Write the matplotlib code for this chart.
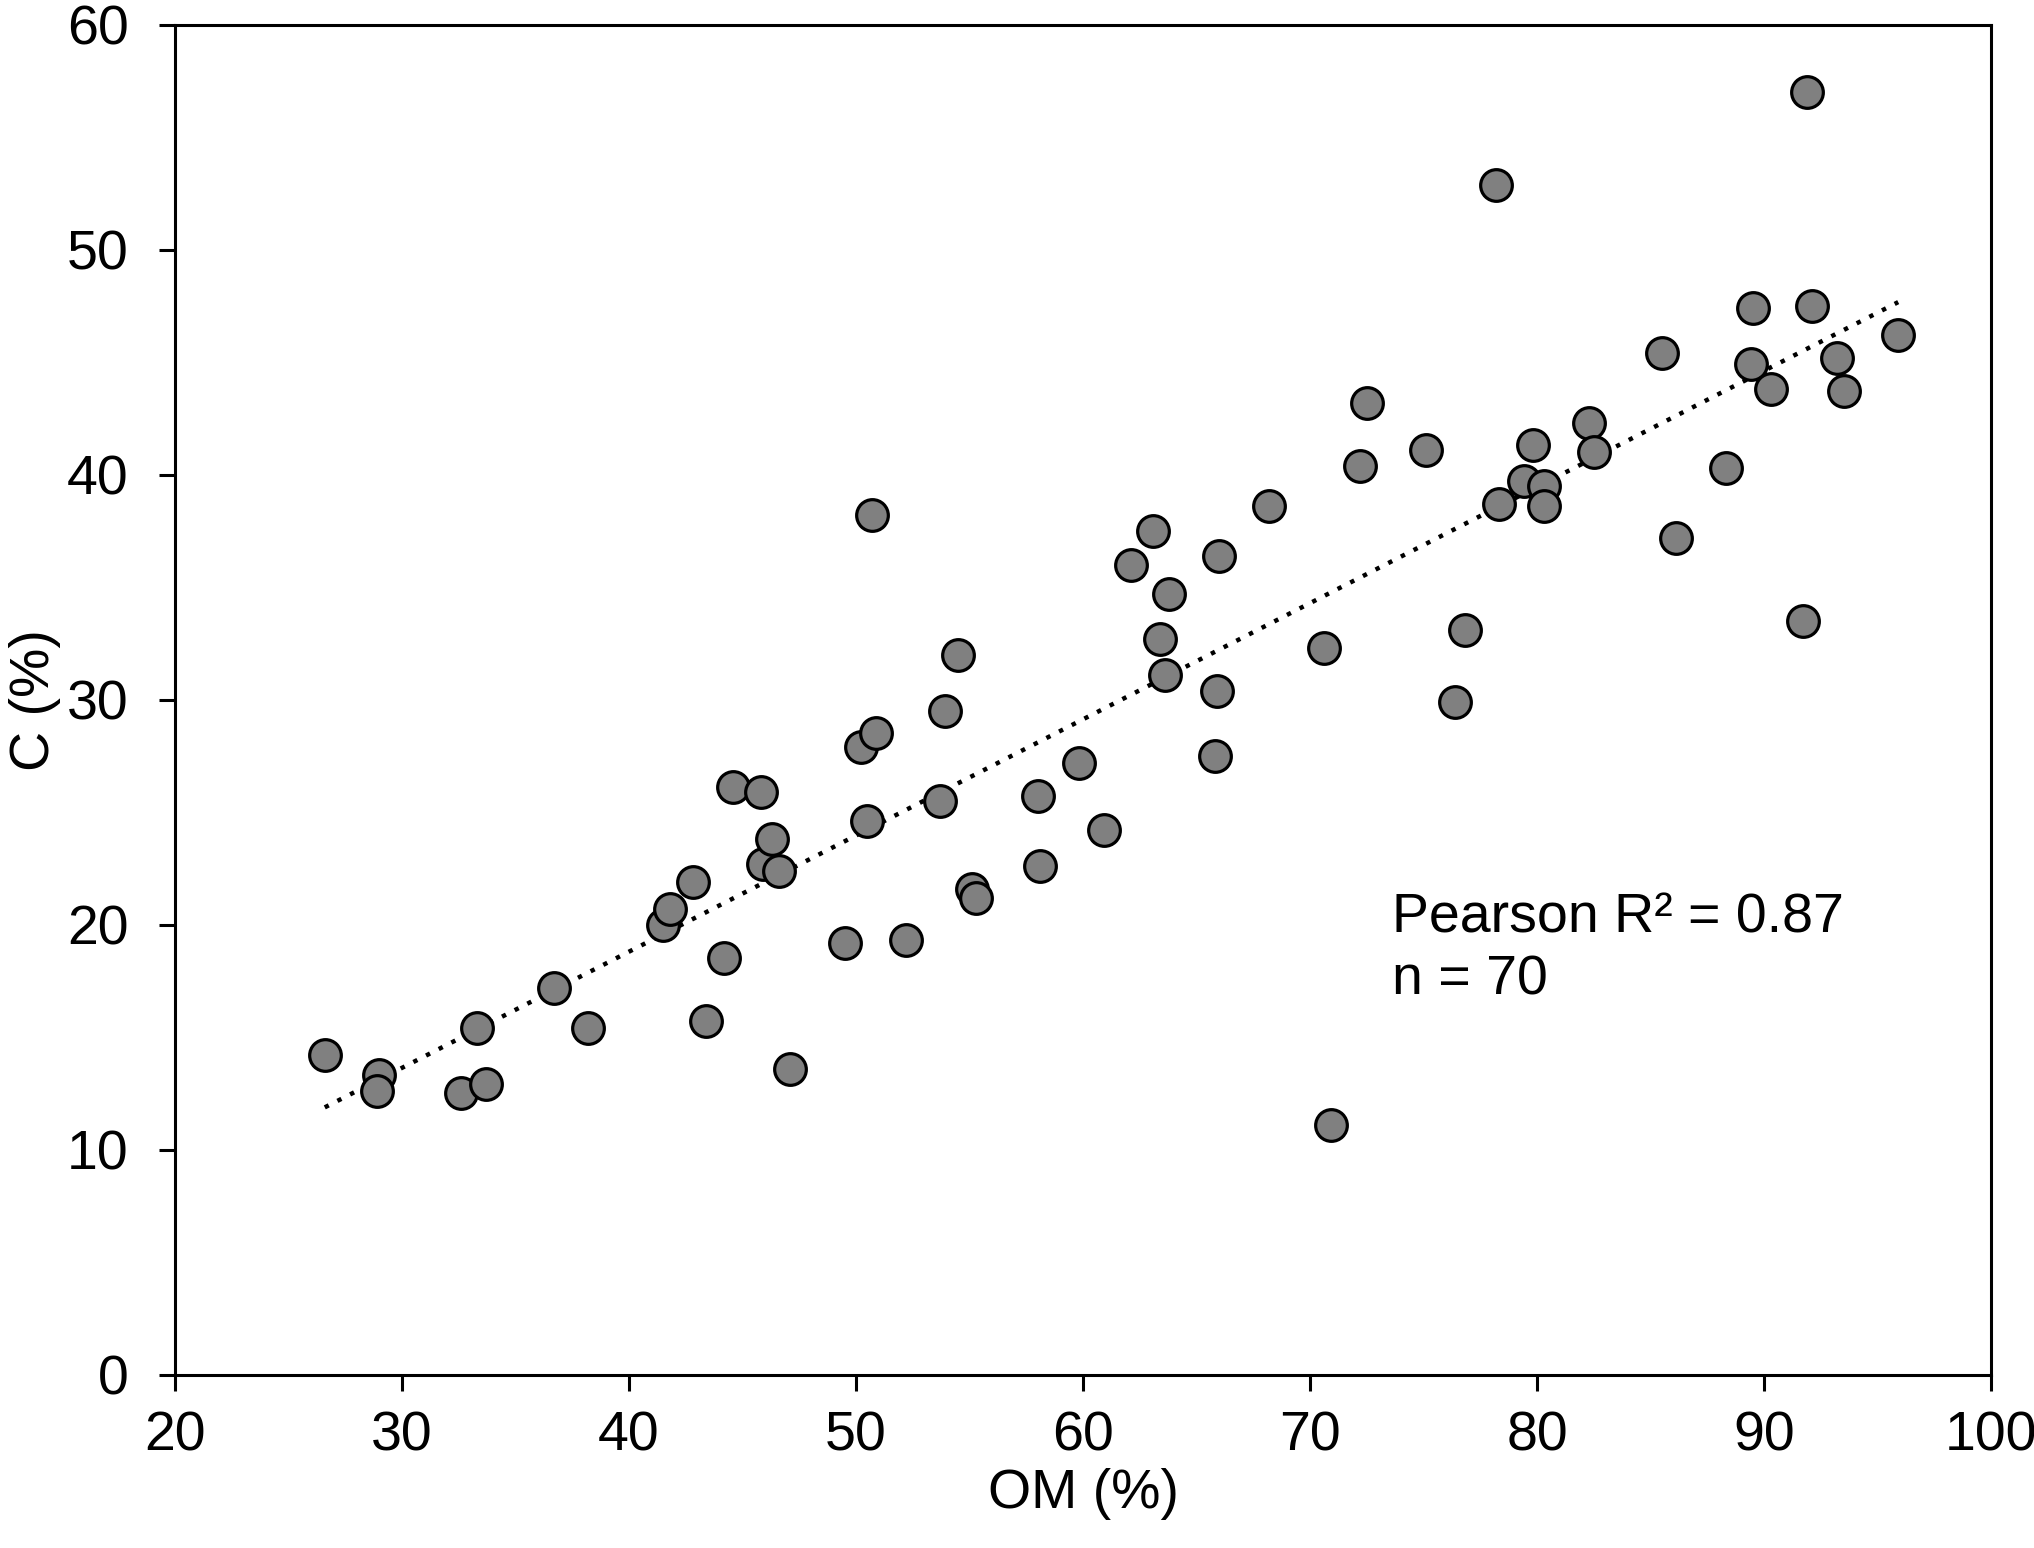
import numpy as np
import matplotlib
matplotlib.use('Agg')
import matplotlib.pyplot as plt

# organic matter vs carbon
om = [26.6, 29.0, 28.9, 32.6, 33.7, 33.3, 36.7, 38.2, 41.5, 41.8,
      42.8, 43.4, 44.2, 44.6, 45.8, 45.9, 46.3, 46.6, 47.1, 49.5,
      50.2, 50.9, 50.5, 50.7, 52.2, 53.7, 53.9, 54.5, 55.1, 55.3,
      58.0, 58.1, 59.8, 60.9, 62.1, 63.1, 63.4, 63.6, 63.8, 65.8,
      65.9, 66.0, 68.2, 70.6, 70.9, 72.2, 72.5, 75.1, 76.4, 76.8,
      78.2, 78.3, 79.4, 79.8, 80.3, 80.3, 82.3, 82.5, 85.5, 86.1,
      88.3, 89.5, 89.4, 90.3, 91.7, 91.9, 92.1, 93.2, 93.5, 95.9]
c = [14.2, 13.3, 12.6, 12.5, 12.9, 15.4, 17.2, 15.4, 20.0, 20.7,
     21.9, 15.7, 18.5, 26.1, 25.9, 22.7, 23.8, 22.4, 13.6, 19.2,
     27.9, 28.5, 24.6, 38.2, 19.3, 25.5, 29.5, 32.0, 21.6, 21.2,
     25.7, 22.6, 27.2, 24.2, 36.0, 37.5, 32.7, 31.1, 34.7, 27.5,
     30.4, 36.4, 38.6, 32.3, 11.1, 40.4, 43.2, 41.1, 29.9, 33.1,
     52.9, 38.7, 39.7, 41.3, 39.5, 38.6, 42.3, 41.0, 45.4, 37.2,
     40.3, 47.4, 44.9, 43.8, 33.5, 57.0, 47.5, 45.2, 43.7, 46.2]

# linear trend drawn in the original
slope = 0.5165
intercept = -1.86

plt.rcParams['font.family'] = ['Liberation Sans', 'DejaVu Sans']

fig = plt.figure(figsize=(20.34, 15.48), dpi=100)
fig.patch.set_facecolor('white')
ax1 = fig.add_axes([0.086, 0.112, 0.893, 0.872])

xfit = np.array([min(om), max(om)])
ax1.plot(xfit, slope*xfit+intercept, linestyle=(0, (1, 2.2)), color='black',
         linewidth=3.2, zorder=1)
ax1.scatter(om, c, s=520, facecolor='#808080', edgecolor='black',
            linewidth=2.3, zorder=2)

ax1.set_xlim(20, 100)
ax1.set_ylim(0, 60)
ax1.set_xticks(np.arange(20, 101, 10))
ax1.set_yticks(np.arange(0, 61, 10))

for s in ax1.spines.values():
    s.set_linewidth(2.2)
ax1.tick_params(axis='both', direction='out', length=11.5, width=2.2,
                labelsize=40, top=False, right=False)
ax1.tick_params(axis='y', pad=22)
ax1.tick_params(axis='x', pad=14)

ax1.set_xlabel("OM (%)", fontsize=40, labelpad=4)
ax1.set_ylabel("C (%)", fontsize=40, labelpad=4)

ax1.text(73.6, 18.9, "Pearson R\u00b2 = 0.87\nn = 70", fontsize=40,
         va='center', ha='left', linespacing=1.25)

fig.savefig("out.png", dpi=100)
